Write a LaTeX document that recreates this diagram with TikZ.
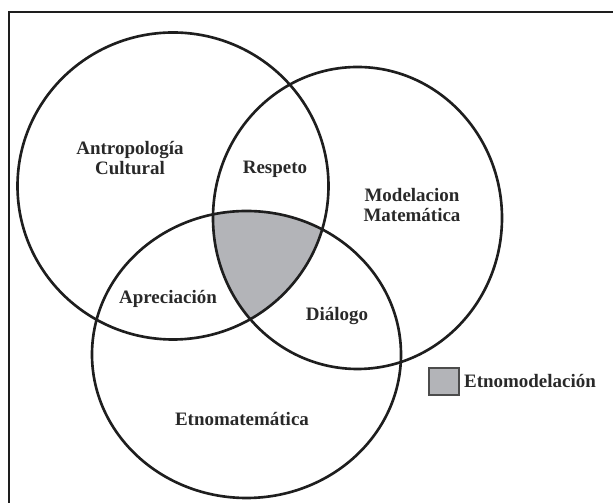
\documentclass[tikz,border=0pt]{standalone}
\usepackage{fontspec}
\setmainfont{Liberation Serif}
\usepackage{xcolor}
\usetikzlibrary{positioning}
\definecolor{sombra}{HTML}{B3B4B8}
\definecolor{tinta}{HTML}{1E1E1E}

\begin{document}
\begin{tikzpicture}[x=0.02cm, y=0.02cm]
 \tikzset{circulo/.style={draw=tinta, line width=1.5pt},
  etiqueta/.style={text=tinta!95, font=\bfseries\fontsize{10.8}{11.5}\selectfont, align=center, inner sep=0pt}};
  \clip (0,0) rectangle (613,503);
  \coordinate (antro) at (173,317);
  \coordinate (model) at (357.5,285);
  \coordinate (etno) at (246.5,148.5);
  \begin{scope}
   \clip (antro) ellipse [x radius=155.5, y radius=153.5];
   \clip (model) ellipse [x radius=144.5, y radius=151];
   \fill[sombra] (etno) ellipse [x radius=154.5, y radius=143.5];
  \end{scope}
  \draw[circulo] (antro) ellipse [x radius=155.5, y radius=153.5];
  \draw[circulo] (model) ellipse [x radius=144.5, y radius=151];
  \draw[circulo] (etno) ellipse [x radius=154.5, y radius=143.5];
  \draw[tinta, line width=1.1pt] (9.3,-5) |- (620,491.3);
  \node[etiqueta] (antropologia) at (130,345) {Antropología\\Cultural};
  \node[etiqueta] (respeto) at (275,334) {Respeto};
  \node[etiqueta] (modelacion) at (412,298) {Modelacion\\Matemática};
  \node[etiqueta] (apreciacion) at (168,204) {Apreciación};
  \node[etiqueta] (dialogo) at (337,187) {Diálogo};
  \node[etiqueta] (etnomatematica) at (242,84) {Etnomatemática};
  \node[draw=gray!60!black, fill=sombra, line width=0.9pt, minimum width=17pt, minimum height=15.4pt] (leyenda) at (444,121.5) {};
  \node[etiqueta, right=2.3pt of leyenda] (etnomodelacion) {Etnomodelación};
\end{tikzpicture}
\end{document}
